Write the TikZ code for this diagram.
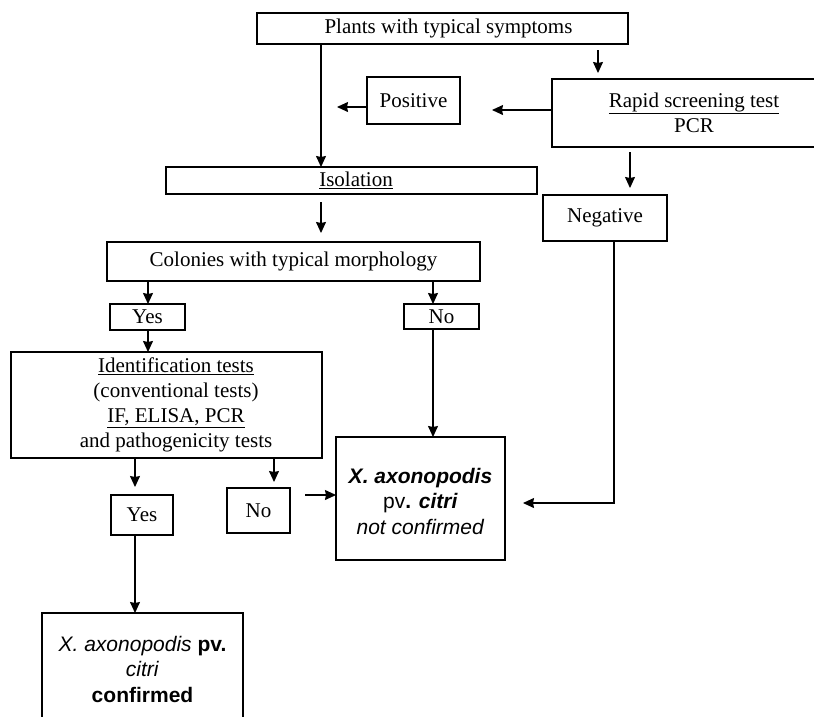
\documentclass[tikz,border=0pt]{standalone}
\usepackage{fontspec}
\setmainfont{Liberation Serif}
\newfontfamily\sansf{Liberation Sans}
\usetikzlibrary{arrows.meta}
\begin{document}
\begin{tikzpicture}[x=1pt,y=-1pt,
  flowbox/.style={draw, line width=2pt, inner sep=0pt, outer sep=0pt, align=center, font=\fontsize{21}{25}\selectfont},
  txt/.style={font=\fontsize{21}{25}\selectfont, align=center, inner sep=0pt},
  sanstxt/.style={font=\sansf\fontsize{21}{25.5}\selectfont, align=center, inner sep=0pt},
  arr/.style={line width=1.2pt, -{Stealth[length=11pt,width=10pt,inset=1pt]}}
]
\clip (0,0) rectangle (814,716);
% boxes
\node[flowbox, minimum width=371pt, minimum height=31pt,
  label={[txt, xshift=6pt]center:Plants with typical symptoms}] (plants) at (442.5,28.5) {};
\node[flowbox, minimum width=93pt, minimum height=47pt] (positive) at (413.5,100.5) {Positive};
\node[flowbox, minimum width=284pt, minimum height=68pt] (rapid) at (694,113) {\underline{Rapid screening test}\\PCR};
\node[flowbox, minimum width=371pt, minimum height=27pt,
  label={[txt, xshift=4.5pt]center:\underline{Isolation}}] (isolation) at (351.5,180.5) {};
\node[flowbox, minimum width=124pt, minimum height=46pt] (negative) at (605,218) {Negative};
\node[flowbox, minimum width=373pt, minimum height=39pt] (colonies) at (293.5,261.5) {Colonies with typical morphology};
\node[flowbox, minimum width=75pt, minimum height=26pt] (yes1) at (147.5,317) {Yes};
\node[flowbox, minimum width=75pt, minimum height=25pt] (no1) at (441.5,316.5) {No};
\node[flowbox, minimum width=311pt, minimum height=106pt,
  label={[txt, xshift=9.5pt]center:{\underline{Identification tests}\\(conventional tests)\\\underline{IF, ELISA, PCR}\\and pathogenicity tests}}] (ident) at (166.5,405) {};
\node[flowbox, minimum width=62pt, minimum height=40pt] (yes2) at (142,515) {Yes};
\node[flowbox, minimum width=63pt, minimum height=45pt] (no2) at (258.5,510.5) {No};
\node[flowbox, minimum width=169pt, minimum height=123pt,
  label={[sanstxt, yshift=-2.5pt]center:{\textbf{\textit{X. axonopodis}}\\pv\textbf{.} \textbf{\textit{citri}}\\\textit{not confirmed}}}] (nc) at (420.5,498.5) {};
\node[flowbox, minimum width=201pt, minimum height=127pt,
  label={[sanstxt, yshift=7.5pt]center:{\textit{X. axonopodis} \textbf{pv.}\\\textit{citri}\\\textbf{confirmed}}}] (conf) at (142.5,676.5) {};
% helper coordinates
\coordinate (a1) at (321,0);
\coordinate (a2) at (598,0);
\coordinate (a3) at (0,110);
\coordinate (pfree) at (337,107);
\coordinate (a6) at (630,0);
\coordinate (a7) at (148,0);
\coordinate (a8) at (433,0);
\coordinate (a11) at (614,503);
\coordinate (a12) at (135,0);
\coordinate (a13) at (274,0);
\coordinate (a14) at (0,495);
% connectors
\draw[arr] (plants.south -| a1) -- (isolation.north -| a1);
\draw[arr, shorten <=6pt, shorten >=6pt] (plants.south -| a2) -- (rapid.north -| a2);
\draw[arr, shorten >=32pt] (rapid.west |- a3) -- (positive.east |- a3);
\draw[arr] (positive.west |- pfree) -- (pfree);
\draw[arr, shorten <=8pt, shorten >=9pt] (isolation.south -| a1) -- (colonies.north -| a1);
\draw[arr, shorten <=5pt, shorten >=7pt] (rapid.south -| a6) -- (negative.north -| a6);
\draw[arr] (colonies.south -| a7) -- (yes1.north -| a7);
\draw[arr] (colonies.south -| a8) -- (no1.north -| a8);
\draw[arr] (yes1.south -| a7) -- (ident.north -| a7);
\draw[arr] (no1.south -| a8) -- (nc.north -| a8);
\draw[arr, shorten >=18pt] (negative.south -| a11) |- (nc.east |- a11);
\draw[arr, shorten >=8pt] (ident.south -| a12) -- (yes2.north -| a12);
\draw[arr, shorten >=6pt] (ident.south -| a13) -- (no2.north -| a13);
\draw[arr, shorten <=15pt] (no2.east |- a14) -- (nc.west |- a14);
\draw[arr] (yes2.south -| a12) -- (conf.north -| a12);
\end{tikzpicture}
\end{document}
